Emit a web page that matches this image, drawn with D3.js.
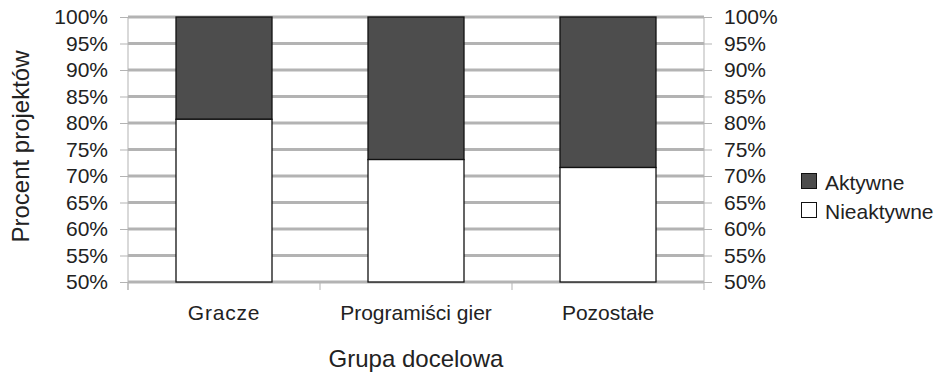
<!DOCTYPE html>
<html>
<head>
<meta charset="utf-8">
<script src="https://cdn.jsdelivr.net/npm/d3@7"></script>
<style>
  body { margin: 0; background: #fff; }
  text { font-family: "Liberation Sans", Arial, sans-serif; fill: #222; }
</style>
</head>
<body>
<div id="chart"></div>
<script>
// dane
const categories = ["Gracze", "Programiści gier", "Pozostałe"];
const nieaktywne = [80.7, 73.1, 71.6];
const aktywne = [19.3, 26.9, 28.4];
const seriesNames = ["Aktywne", "Nieaktywne"];
const yTicks = [50, 55, 60, 65, 70, 75, 80, 85, 90, 95, 100];

const W = 943, H = 374;
const margin = { top: 17, left: 128, right: 239, bottom: 92 };
const width = W - margin.left - margin.right;
const height = H - margin.top - margin.bottom;

const svg = d3.select("#chart").append("svg")
    .attr("width", W)
    .attr("height", H);

const g = svg.append("g")
    .attr("transform", `translate(${margin.left},${margin.top})`);

const x = d3.scaleBand()
    .domain(categories)
    .range([0, width])
    .paddingInner(0)
    .paddingOuter(0);

const y = d3.scaleLinear()
    .domain([50, 100])
    .range([height, 0]);

// linie siatki
g.append("g")
    .selectAll("line")
    .data(yTicks)
    .enter()
    .append("line")
    .attr("x1", 0)
    .attr("x2", width)
    .attr("y1", d => y(d))
    .attr("y2", d => y(d))
    .style("stroke", "#b3b3b3")
    .style("stroke-width", 3);

// osie Y (lewa i prawa)
const fmt = d => d + "%";
const yLeft = g.append("g")
    .call(d3.axisLeft(y).tickValues(yTicks).tickFormat(fmt).tickSize(8).tickPadding(12));
const yRight = g.append("g")
    .attr("transform", `translate(${width},0)`)
    .call(d3.axisRight(y).tickValues(yTicks).tickFormat(fmt).tickSize(8).tickPadding(12));
[yLeft, yRight].forEach(ax => {
    ax.attr("font-size", 21).attr("font-family", "Liberation Sans, Arial, sans-serif");
    ax.select(".domain").remove();
    ax.selectAll("line").style("stroke", "#b3b3b3");
    ax.selectAll("text").style("font-size", "21px").style("fill", "#222");
});
// pionowe linie osi
g.append("line").attr("x1", 0).attr("x2", 0).attr("y1", 0).attr("y2", height + 8)
    .style("stroke", "#b3b3b3").style("stroke-width", 1);
g.append("line").attr("x1", width).attr("x2", width).attr("y1", 0).attr("y2", height + 8)
    .style("stroke", "#b3b3b3").style("stroke-width", 1);

// oś X
const xAxis = g.append("g")
    .attr("transform", `translate(0,${height})`)
    .call(d3.axisBottom(x).tickSize(0).tickPadding(23));
xAxis.select(".domain").remove();
xAxis.selectAll("text").style("font-size", "21px").style("fill", "#222")
    .style("font-family", "Liberation Sans, Arial, sans-serif")
    .style("letter-spacing", d => d === "Gracze" ? "0.8px" : "0px");
// znaczniki między kategoriami
g.append("g")
    .selectAll("line")
    .data(categories)
    .enter()
    .append("line")
    .attr("x1", d => x(d))
    .attr("x2", d => x(d))
    .attr("y1", height)
    .attr("y2", height + 8)
    .style("stroke", "#b3b3b3");

// słupki
const bw = x.bandwidth() / 2;
const bars = g.append("g");
categories.forEach((c, i) => {
    const bx = x(c) + x.bandwidth() / 4;
    bars.append("rect")
        .attr("x", bx)
        .attr("y", y(100))
        .attr("width", bw)
        .attr("height", y(nieaktywne[i]) - y(100))
        .style("fill", "#4d4d4d")
        .style("stroke", "#111")
        .style("stroke-width", 1.3);
    bars.append("rect")
        .attr("x", bx)
        .attr("y", y(nieaktywne[i]))
        .attr("width", bw)
        .attr("height", y(50) - y(nieaktywne[i]))
        .style("fill", "#fff")
        .style("stroke", "#111")
        .style("stroke-width", 1.3);
});

// tytuły osi
svg.append("text")
    .attr("text-anchor", "middle")
    .attr("font-size", "24px")
    .attr("x", margin.left + width / 2)
    .attr("y", 367)
    .text("Grupa docelowa");

svg.append("text")
    .attr("text-anchor", "middle")
    .attr("font-size", "24px")
    .attr("transform", `translate(29,${margin.top + height / 2 - 3}) rotate(-90)`)
    .text("Procent projektów");

// legenda
const legendColors = ["#4d4d4d", "#fff"];
const legend = svg.append("g").attr("transform", "translate(801,173)");
seriesNames.forEach((n, i) => {
    legend.append("rect")
        .attr("x", 0.5)
        .attr("y", i * 29 + 0.5)
        .attr("width", 15)
        .attr("height", 15)
        .style("fill", legendColors[i])
        .style("stroke", "#111")
        .style("stroke-width", 1);
    legend.append("text")
        .attr("x", 24)
        .attr("y", i * 29 + 17)
        .attr("font-size", "21px")
        .text(n);
});
</script>
</body>
</html>
